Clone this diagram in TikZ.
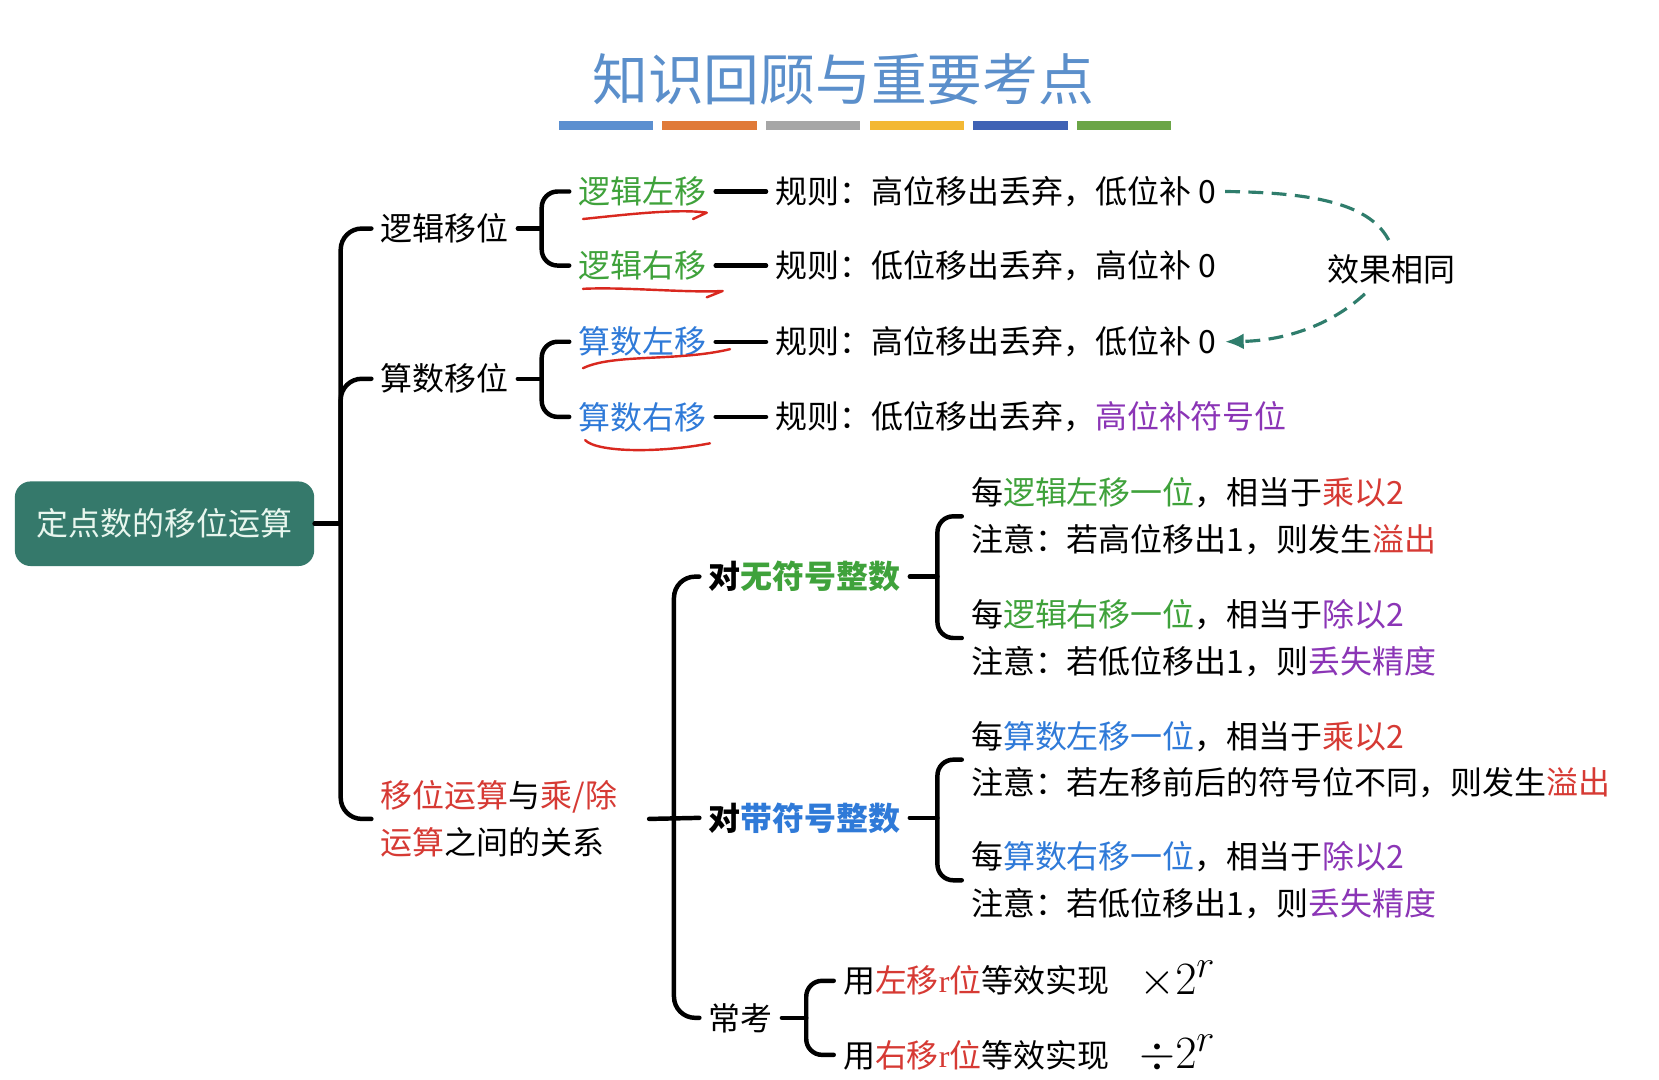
\documentclass[tikz,border=0pt]{standalone}
\usepackage{fontspec}
\setmainfont{Noto Sans CJK SC}
\newfontfamily\latinserif{Liberation Serif}
\usepackage{tikz}
\usetikzlibrary{arrows.meta,calc,positioning}
\definecolor{RootTeal}{HTML}{35796B}
\definecolor{RootText}{HTML}{E8F6EE}
\definecolor{TitleBlue}{HTML}{5B8FCB}
\definecolor{LogicGreen}{HTML}{3FA23B}
\definecolor{ArithBlue}{HTML}{2F7AD8}
\definecolor{KeyRed}{HTML}{D63A34}
\definecolor{NotePurple}{HTML}{8B35B6}
\definecolor{LinkTeal}{HTML}{2F7D6C}
\definecolor{InkRed}{HTML}{D9281F}
\definecolor{BarBlue}{HTML}{5B8FD0}
\definecolor{BarOrange}{HTML}{E07A38}
\definecolor{BarGray}{HTML}{A6A6A6}
\definecolor{BarYellow}{HTML}{F3B834}
\definecolor{BarNavy}{HTML}{3F62B5}
\definecolor{BarGreen}{HTML}{6BA547}
\newcommand{\hlgreen}[1]{\textcolor{LogicGreen}{#1}}
\newcommand{\hlblue}[1]{\textcolor{ArithBlue}{#1}}
\newcommand{\hlred}[1]{\textcolor{KeyRed}{#1}}
\newcommand{\hlpurple}[1]{\textcolor{NotePurple}{#1}}

\begin{document}
\begin{tikzpicture}[x=0.02cm,y=-0.02cm,
    txt/.style={anchor=west,inner sep=3pt,outer sep=2pt,font=\fontsize{17.2}{25}\selectfont,align=left},
    bold/.style={txt,font=\fontsize{17.2}{25}\selectfont\bfseries},
    branch/.style={line width=2.4pt,line cap=round},
    ink/.style={InkRed,line width=1.3pt,line cap=round,line join=round},
    link/.style={LinkTeal,line width=1.7pt,dash pattern=on 0.28cm off 0.16cm}]
    \fill[white] (0,0) rectangle (1568,1020);
    \useasboundingbox (0,0) rectangle (1568,1020);
    % title and colour bars
    \node[font=\fontsize{30}{36}\selectfont,text=TitleBlue] (title) at (797,75) {知识回顾与重要考点};
    \foreach \c [count=\i from 0] in {BarBlue,BarOrange,BarGray,BarYellow,BarNavy,BarGreen}
      \fill[\c] ({528+98*\i},114) rectangle ++(89,9);
    % root
    \node[fill=RootTeal,text=RootText,rounded corners=0.3cm,minimum width=5.66cm,minimum height=1.6cm,
      font=\fontsize{17.2}{25}\selectfont] (root) at (155.5,495) {定点数的移位运算};
    % first level
    \node[txt] (logic) at (351,216) {逻辑移位};
    \node[txt] (arith) at (351,358) {算数移位};
    \node[txt,text width=4.9cm] (relation) at (351,774) {\hlred{移位运算}与\hlred{乘/除}\\\hlred{运算}之间的关系};
    % shifts and rules
    \node[txt] (lsl) at (538,181) {\hlgreen{逻辑左移}};
    \node[txt] (lsr) at (538,251) {\hlgreen{逻辑右移}};
    \node[txt] (asl) at (538,323) {\hlblue{算数左移}};
    \node[txt] (asr) at (538,394) {\hlblue{算数右移}};
    \node[txt] (rule1) at (724,181) {规则：高位移出丢弃，低位补 0};
    \node[txt] (rule2) at (724,251) {规则：低位移出丢弃，高位补 0};
    \node[txt] (rule3) at (724,323) {规则：高位移出丢弃，低位补 0};
    \node[txt] (rule4) at (724,394) {规则：低位移出丢弃，\hlpurple{高位补符号位}};
    \node[txt,anchor=center] (same) at (1315,255) {效果相同};
    % multiply / divide
    \node[bold] (unsigned) at (661,545) {对\hlgreen{无符号整数}};
    \node[bold] (signed) at (661,773) {对\hlblue{带符号整数}};
    \node[txt] (often) at (661,962) {常考};
    \node[txt] (u1) at (909,488) {每\hlgreen{逻辑左移一位}，相当于\hlred{乘以2}\\注意：若高位移出1，则发生\hlred{溢出}};
    \node[txt] (u2) at (909,603) {每\hlgreen{逻辑右移一位}，相当于\hlpurple{除以2}\\注意：若低位移出1，则\hlpurple{丢失精度}};
    \node[txt] (s1) at (909,718) {每\hlblue{算数左移一位}，相当于\hlred{乘以2}\\注意：若左移前后的符号位不同，则发生\hlred{溢出}};
    \node[txt] (s2) at (909,832) {每\hlblue{算数右移一位}，相当于\hlpurple{除以2}\\注意：若低位移出1，则\hlpurple{丢失精度}};
    \node[txt] (c1) at (788,927) {用\hlred{左移{\latinserif r}位}等效实现};
    \node[txt] (c2) at (788,997) {用\hlred{右移{\latinserif r}位}等效实现};
    \node[txt,font=\fontsize{29}{32}\selectfont] (m1) at (1068,926) {$\times2^r$};
    \node[txt,font=\fontsize{29}{32}\selectfont] (m2) at (1068,996) {$\div2^r$};
    % forks
    \coordinate (mainfork) at (322,495);
    \coordinate (logicfork) at (512,216);
    \coordinate (arithfork) at (512,358);
    \coordinate (relfork) at (637,773);
    \coordinate (ufork) at (886,545);
    \coordinate (sfork) at (886,773);
    \coordinate (cfork) at (762,962);
    \draw[branch] (root.east) -- (mainfork);
    \draw[branch,rounded corners=0.4cm] (logic.west) -| (mainfork) |- (relation.west);
    \draw[branch,rounded corners=0.4cm] (arith.west) -| (mainfork);
    \draw[branch] (logic.east) -- (logicfork);
    \draw[branch,rounded corners=0.3cm] (lsl.west) -| (logicfork) |- (lsr.west);
    \draw[branch] (arith.east) -- (arithfork);
    \draw[branch,rounded corners=0.3cm] (asl.west) -| (arithfork) |- (asr.west);
    \draw[branch] (lsl.east) -- (rule1.west);
    \draw[branch] (lsr.east) -- (rule2.west);
    \draw[branch] (asl.east) -- (rule3.west);
    \draw[branch] (asr.east) -- (rule4.west);
    \draw[branch] (relation.east) -- (signed.west);
    \draw[branch,rounded corners=0.4cm] (unsigned.west) -| (relfork) |- (often.west);
    \draw[branch] (unsigned.east) -- (ufork);
    \draw[branch,rounded corners=0.3cm] (u1.west) -| (ufork) |- (u2.west);
    \draw[branch] (signed.east) -- (sfork);
    \draw[branch,rounded corners=0.3cm] (s1.west) -| (sfork) |- (s2.west);
    \draw[branch] (often.east) -- (cfork);
    \draw[branch,rounded corners=0.3cm] (c1.west) -| (cfork) |- (c2.west);
    % same effect
    \draw[link] (rule1.east) .. controls (1250,182) and (1300,195) .. (same.north);
    \draw[link,-{Latex[length=0.35cm,width=0.3cm]}] ([xshift=-0.5cm]same.south)
      .. controls (1255,310) and (1210,322) .. (rule3.east);
    % hand-drawn underlines
    \draw[ink] (551,207) .. controls (590,203) and (640,197) .. (668,201) -- (655,207);
    \draw[ink] (551,273) .. controls (590,271) and (650,277) .. (683,275) -- (668,281);
    \draw[ink] (551,348) .. controls (580,334) and (640,342) .. (690,330);
    \draw[ink] (553,416) .. controls (565,428) and (625,428) .. (671,419);
  \end{tikzpicture}
\end{document}
